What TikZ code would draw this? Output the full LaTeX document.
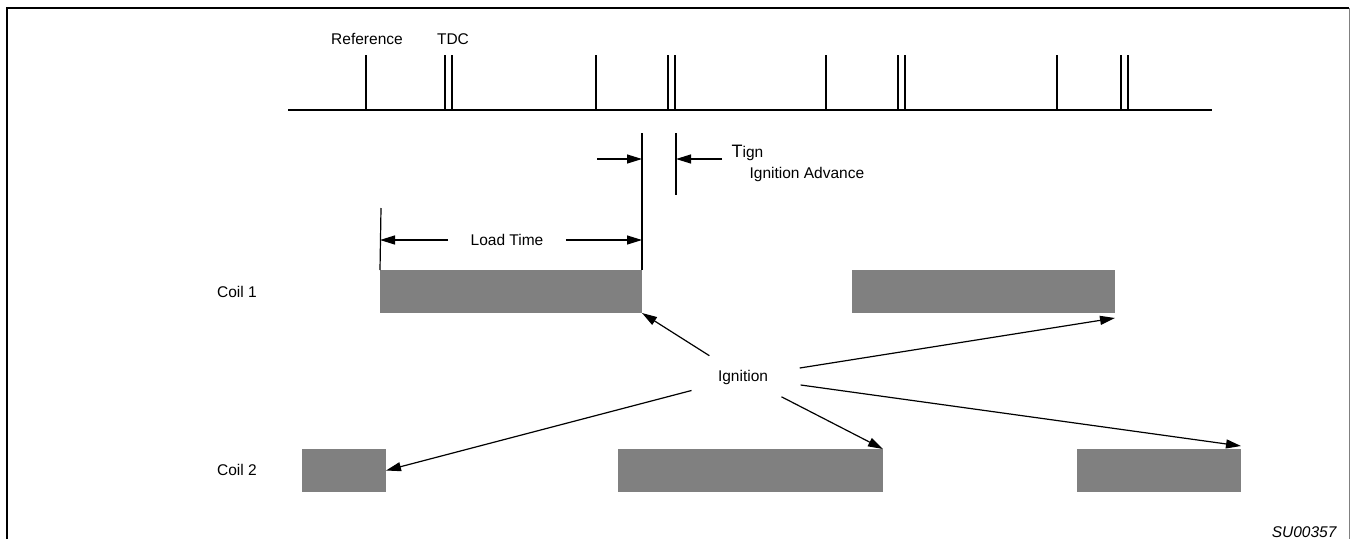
\documentclass[tikz,border=0pt]{standalone}
\usepackage{fontspec}
\setmainfont{Liberation Sans}
\usetikzlibrary{arrows.meta,shapes.geometric}

\begin{document}
\begin{tikzpicture}[x=1pt,y=-1pt,line width=1.2pt,
  every node/.style={font=\fontsize{15.5}{18}\selectfont, inner sep=0},
  coil/.style={fill=gray, minimum width=#1, minimum height=43pt, anchor=north west, outer sep=0},
  arr/.style={-{Triangle[length=15pt,width=9pt]}},
  pulse/.style={line width=2pt}]
 \useasboundingbox (0,0) rectangle (1351,539);
 % frame
 \draw[line width=2pt] (7,539) -- (7,8) -- (1349,8);
 \draw[gray,line width=1pt] (1349,8) -- (1349,539);
 % crank signal
 \draw[pulse] (288,110) -- (1212,110);
 \foreach \x in {366,596,826,1057} \draw[pulse] (\x,55) -- (\x,110);
 \foreach \x in {445,668,898,1121} {
  \draw[pulse] (\x,55) -- (\x,110);
  \draw[pulse] (\x+7,55) -- (\x+7,110);
 }
 \node[anchor=base] (ref) at (367,44) {Reference};
 \node[anchor=base] (tdc) at (453,44) {TDC};
 % coils
 \node[anchor=base] (coil1) at (237,297) {Coil 1};
 \node[anchor=base] (coil2) at (237,475) {Coil 2};
 \node[coil=262pt] (c1a) at (380,270) {};
 \node[coil=263pt] (c1b) at (852,270) {};
 \node[coil=84pt] (c2a) at (302,449) {};
 \node[coil=265pt] (c2b) at (618,449) {};
 \node[coil=164pt] (c2c) at (1077,449) {};
 % ignition advance
 \draw (c1a.north east) -- (642,133);
 \coordinate (adv) at (676,133);
 \draw (adv) -- (676,195);
 \coordinate (advl) at (597,159);
 \coordinate (advr) at (722,159);
 \draw[arr] (advl) -- (c1a.north east |- advl);
 \draw[arr] (advr) -- (adv |- advr);
 \node[anchor=base west] (tign) at (731,157) {{\fontsize{18}{20}\selectfont T}ign};
 \node[anchor=base west] (advtxt) at (749,178) {Ignition Advance};
 % load time
 \draw (c1a.north west) -- (381,208);
 \node[inner xsep=22pt] (load) at (507,240) {Load Time};
 \draw[arr] (load.west) -- (c1a.north west |- load);
 \draw[arr] (load.east) -- (c1a.north east |- load);
 % ignition
 \node[ellipse, minimum width=120pt, minimum height=50pt] (ign) at (743,377) {Ignition};
 \draw[arr] (ign) -- (c1a.south east);
 \draw[arr] (ign) -- ([yshift=-5pt]c1b.south east);
 \draw[arr] (ign) -- (c2a.east);
 \draw[arr] (ign) -- (c2b.north east);
 \draw[arr] (ign) -- ([yshift=3pt]c2c.north east);
 \node[anchor=base east, font=\fontsize{15.5}{18}\selectfont\itshape] (code) at (1337,537) {SU00357};
\end{tikzpicture}
\end{document}
